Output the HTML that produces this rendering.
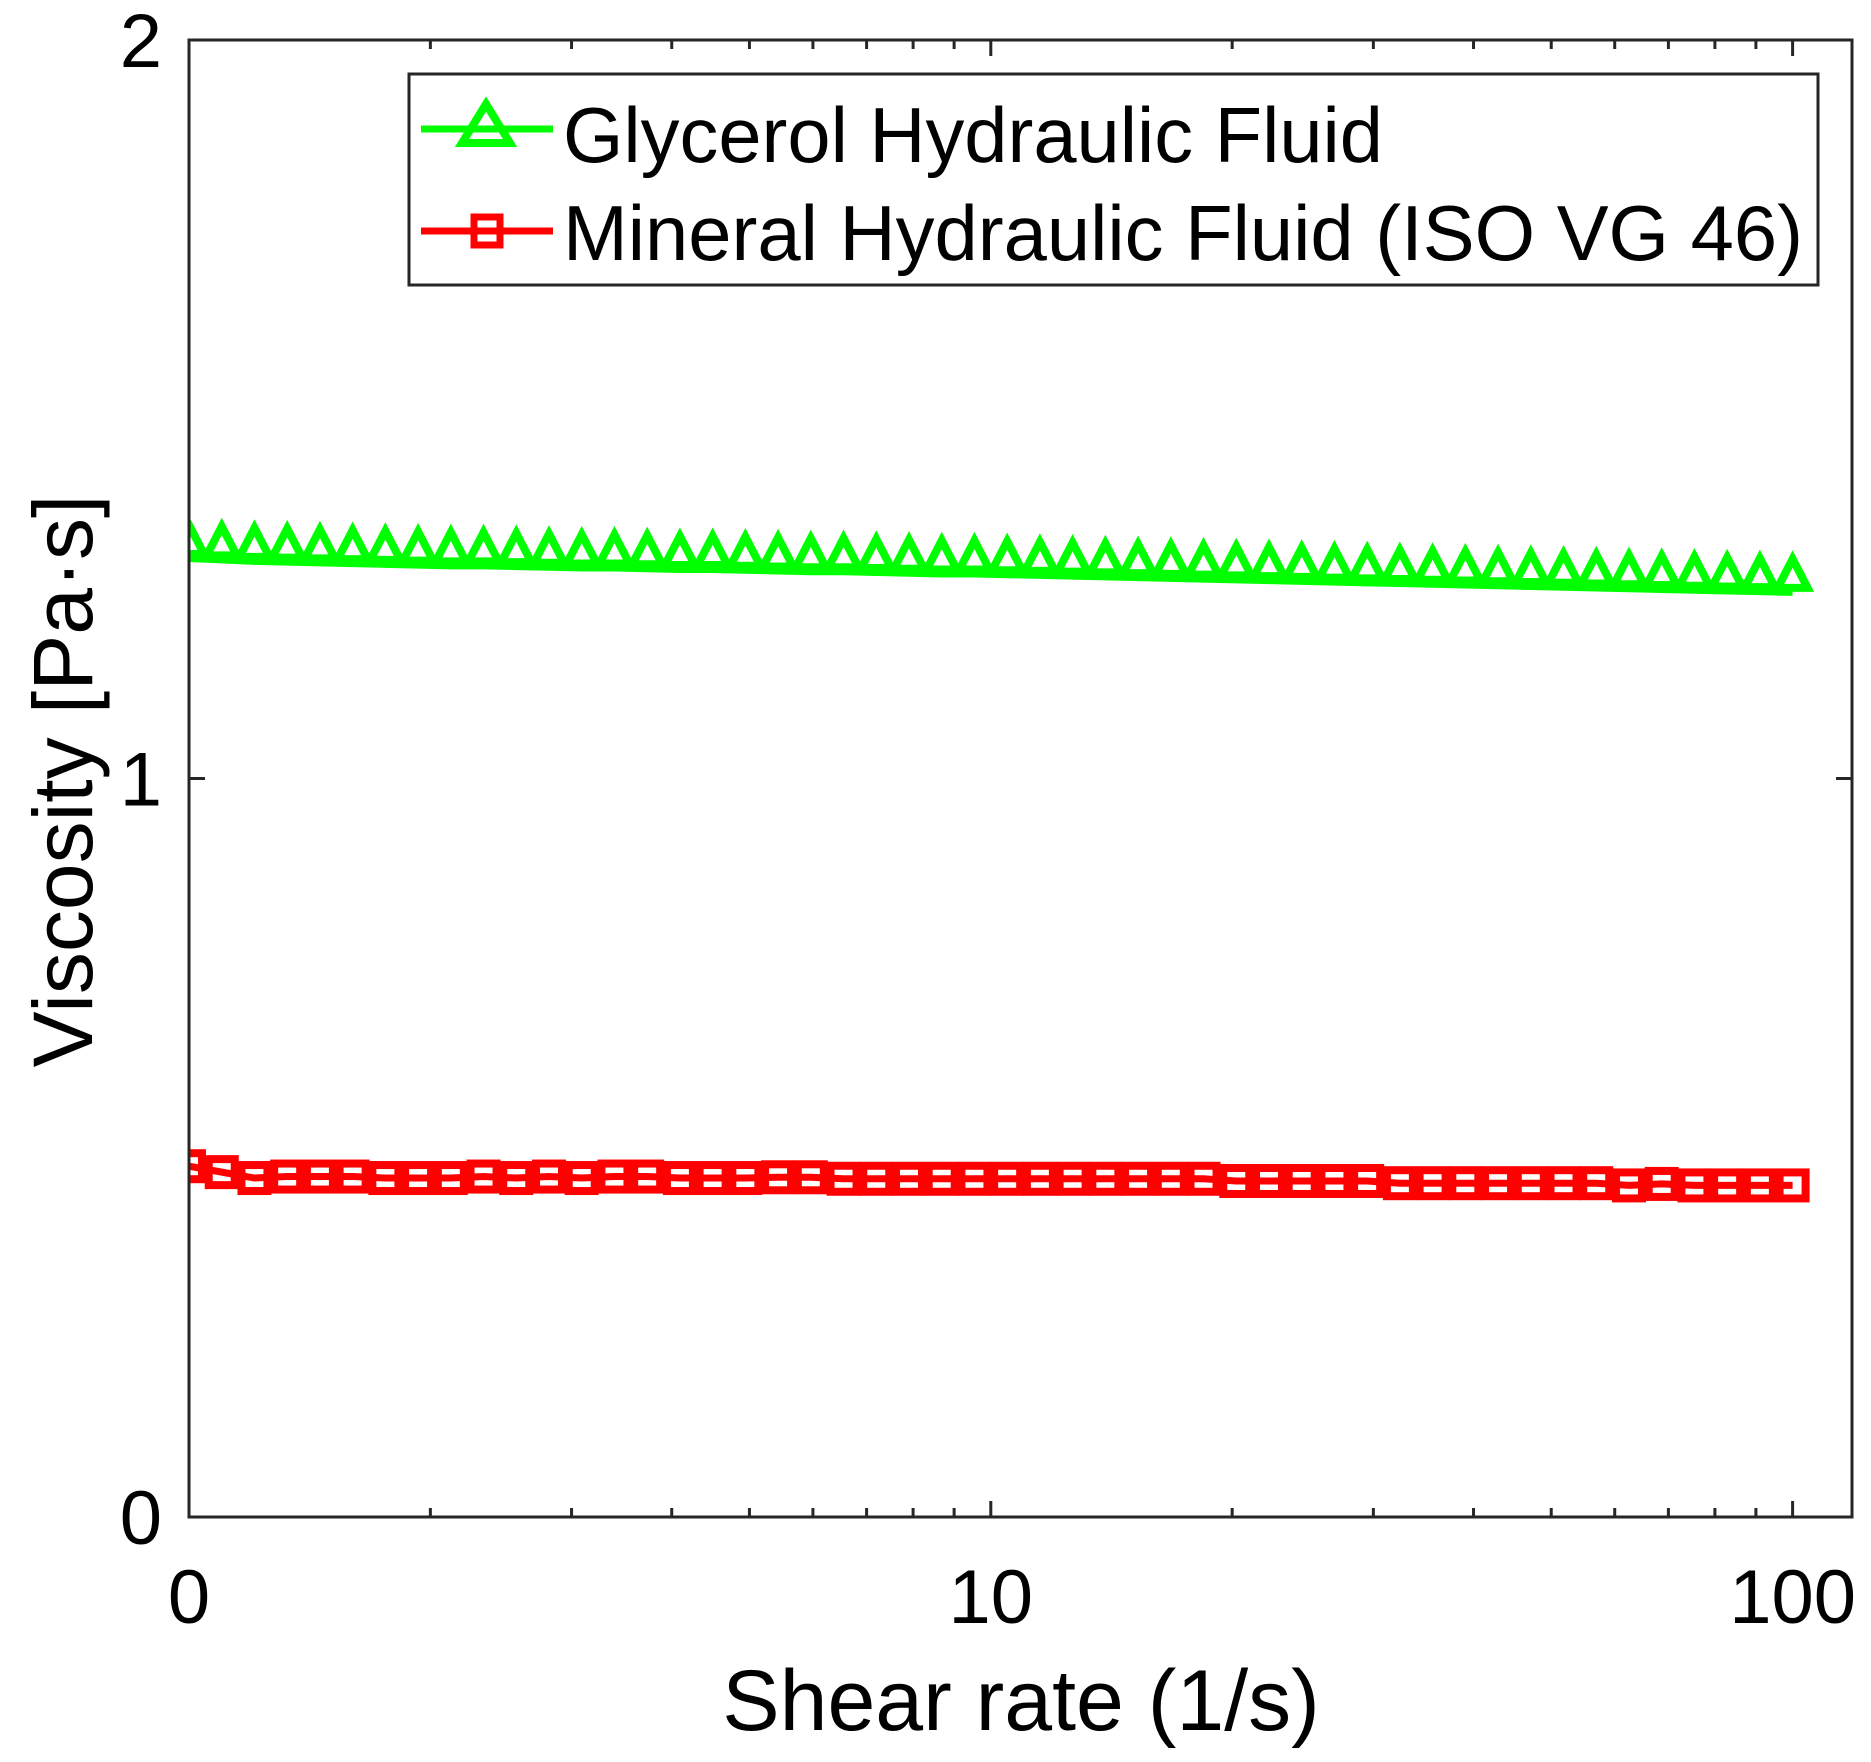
<!DOCTYPE html>
<html><head><meta charset="utf-8"><style>html,body{margin:0;padding:0;background:#fff}svg{display:block}text{font-family:"Liberation Sans",Arial,sans-serif;fill:#000}</style></head>
<body>
<svg id="chart" width="1871" height="1762" viewBox="0 0 1871 1762" xmlns="http://www.w3.org/2000/svg">
<rect width="1871" height="1762" fill="#fff"/>
<defs><clipPath id="pc"><rect x="189" y="40" width="1663" height="1477"/></clipPath></defs>
<g id="plot" clip-path="url(#pc)"></g>
<g id="axes"></g>
<g>
<rect x="409" y="74" width="1409" height="211" fill="#fff" stroke="#262626" stroke-width="3"/>
<g>
<line x1="421" y1="129" x2="553" y2="129" stroke="#00ff00" stroke-width="7"/>
<polygon points="486,104 462,143 510,143" fill="none" stroke="#00ff00" stroke-width="8"/>
<text x="563" y="162" font-size="78" textLength="820" lengthAdjust="spacingAndGlyphs">Glycerol Hydraulic Fluid</text></g>
<g>
<line x1="421" y1="231" x2="553" y2="231" stroke="#ff0000" stroke-width="7"/>
<rect x="474" y="217" width="26" height="28" fill="none" stroke="#ff0000" stroke-width="7"/>
<text x="563" y="260" font-size="78" textLength="1240" lengthAdjust="spacingAndGlyphs">Mineral Hydraulic Fluid (ISO VG 46)</text></g>
</g>
<text x="1021" y="1730" font-size="86" text-anchor="middle" fill="#262626">Shear rate (1/s)</text>
<text transform="translate(92,781) rotate(-90)" font-size="84" text-anchor="middle" fill="#262626">Viscosity [Pa·s]</text>
</svg>
<script>
const xMin=1, xMax=118.6;
const yTicks=[0,1,2];
const yTickLabels=["0","1","2"];
const xTicks=[1,10,100];
const xTickLabels=["0","10","100"];
const glycerolValues=[1.300,1.298,1.296,1.295,1.294,1.293,1.292,1.291,1.290,1.290,1.289,1.288,1.287,1.287,1.286,1.285,1.285,1.284,1.283,1.282,1.282,1.281,1.280,1.279,1.279,1.278,1.277,1.276,1.275,1.274,1.273,1.272,1.271,1.270,1.269,1.268,1.267,1.266,1.265,1.264,1.263,1.262,1.261,1.260,1.259,1.258,1.257,1.256,1.255,1.254];
const mineralValues=[0.475,0.467,0.459,0.461,0.461,0.461,0.459,0.459,0.459,0.461,0.459,0.461,0.459,0.461,0.461,0.459,0.459,0.459,0.460,0.460,0.458,0.458,0.458,0.458,0.458,0.458,0.458,0.458,0.458,0.458,0.458,0.458,0.455,0.455,0.455,0.455,0.455,0.452,0.452,0.452,0.452,0.452,0.452,0.452,0.449,0.451,0.449,0.449,0.449,0.449];
const shearRates=glycerolValues.map((_,i)=>Math.pow(10,2*i/(glycerolValues.length-1)));
const L=189,R=1852,T=40,B=1517;
function xs(v){return L+(Math.log10(v)-Math.log10(xMin))/(Math.log10(xMax)-Math.log10(xMin))*(R-L);}
function ys(v){return B-(v-0)/(2-0)*(B-T);}
const NS='http://www.w3.org/2000/svg';
function mk(tag,attrs,parent){const e=document.createElementNS(NS,tag);for(const k in attrs)e.setAttribute(k,attrs[k]);parent.appendChild(e);return e;}
const plot=document.getElementById('plot'),axes=document.getElementById('axes');
let gl=mk('polyline',{points:shearRates.map((x,i)=>xs(x)+','+ys(glycerolValues[i])).join(' '),fill:'none',stroke:'#00ff00','stroke-width':10},plot);


shearRates.forEach((x,i)=>{const cx=xs(x),cy=ys(glycerolValues[i]);
 const p=mk('polygon',{points:`${cx},${cy-32} ${cx-15},${cy-3} ${cx+15},${cy-3}`,fill:'none',stroke:'#00ff00','stroke-width':8},plot);
 
 });
let ml=mk('polyline',{points:shearRates.map((x,i)=>xs(x)+','+ys(mineralValues[i])).join(' '),fill:'none',stroke:'#ff0000','stroke-width':7},plot);


shearRates.forEach((x,i)=>{const cx=xs(x),cy=ys(mineralValues[i]);
 const r=mk('rect',{x:cx-13,y:cy-13,width:26,height:26,fill:'none',stroke:'#ff0000','stroke-width':8},plot);
 
 });
const box=mk('rect',{x:L,y:T,width:R-L,height:B-T,fill:'none',stroke:'#262626','stroke-width':3},axes);


yTicks.forEach((v,i)=>{const y=ys(v);
 mk('line',{x1:L,y1:y,x2:L+16,y2:y,stroke:'#262626','stroke-width':3},axes);
 mk('line',{x1:R,y1:y,x2:R-16,y2:y,stroke:'#262626','stroke-width':3},axes);
 const t=mk('text',{x:162,y:y+27,'font-size':76,'text-anchor':'end',fill:'#262626'},axes);t.textContent=yTickLabels[i];
 
 });
for(let d=1;d<=100;d*=10){for(let m=1;m<10;m++){const v=d*m;if(v>xMax)break;const x=xs(v);const len=(m===1)?16:9;
 mk('line',{x1:x,y1:B,x2:x,y2:B-len,stroke:'#262626','stroke-width':3},axes);
 mk('line',{x1:x,y1:T,x2:x,y2:T+len,stroke:'#262626','stroke-width':3},axes);}}
xTicks.forEach((v,i)=>{const t=mk('text',{x:xs(v),y:1623,'font-size':76,'text-anchor':'middle',fill:'#262626'},axes);t.textContent=xTickLabels[i];
 
 });
</script>
</body></html>
